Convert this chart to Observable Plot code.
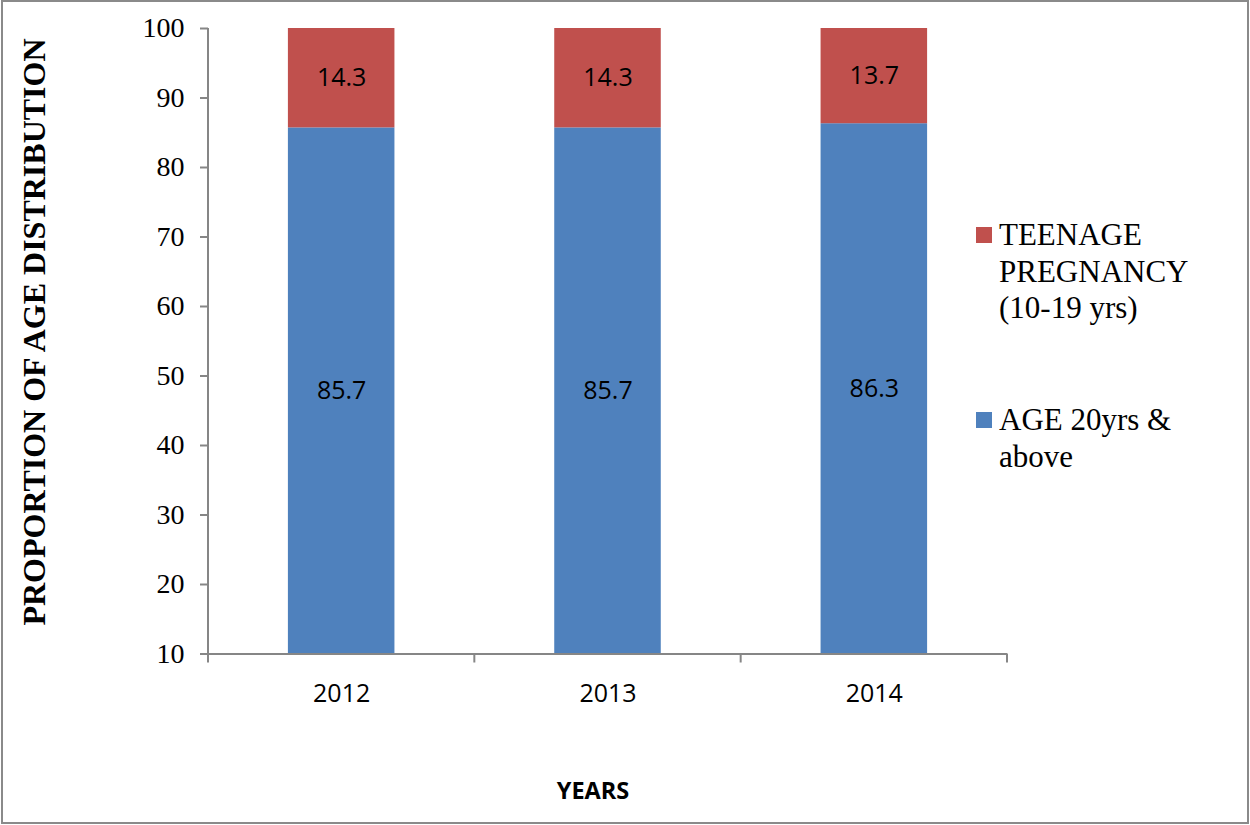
<!DOCTYPE html>
<html>
<head>
<meta charset="utf-8">
<script src="https://cdn.jsdelivr.net/npm/d3@7"></script>
<script src="https://cdn.jsdelivr.net/npm/@observablehq/plot@0.6"></script>
<style>
  html, body { margin: 0; padding: 0; background: #fff; }
  #chart svg { display: block; }
</style>
</head>
<body>
<div id="chart"></div>
<script>
// Age distribution of deliveries by year (percent)
const years = ["2012", "2013", "2014"];
const groups = ["AGE 20yrs & above", "TEENAGE PREGNANCY (10-19 yrs)"];
const adultShare = [85.7, 85.7, 86.3];
const teenShare = [14.3, 14.3, 13.7];
const yTicks = [10, 20, 30, 40, 50, 60, 70, 80, 90, 100];
const legendLines = {
  "TEENAGE PREGNANCY (10-19 yrs)": ["TEENAGE", "PREGNANCY", "(10-19 yrs)"],
  "AGE 20yrs & above": ["AGE 20yrs &", "above"]
};

const blue = "#4F81BD";
const red = "#C0504D";
const axisGray = "#868686";
const yFloor = yTicks[0];
const serif = "'Liberation Serif', 'Times New Roman', serif";
const sans = "'Open Sans', sans-serif";

// long-format rows, bottom segment first so it stacks underneath
const rows = [];
years.forEach((year, i) => {
  rows.push({year, group: groups[0], value: adultShare[i], lo: 0});
  rows.push({year, group: groups[1], value: teenShare[i], lo: adultShare[i]});
});
// label sits in the middle of the visible part of each segment
rows.forEach(d => {
  const bottom = Math.max(d.lo, yFloor);
  d.mid = (bottom + d.lo + d.value) / 2;
});

const W = 1250, H = 825;
const chart = Plot.plot({
  width: W,
  height: H,
  marginLeft: 208,
  marginRight: 243,
  marginTop: 28,
  marginBottom: 171.5,
  style: {fontFamily: sans, background: "#fff", overflow: "visible"},
  x: {domain: years, paddingInner: 0.6, paddingOuter: 0.3, round: false, label: null},
  y: {domain: [yFloor, 100], label: null},
  color: {domain: groups, range: [blue, red]},
  marks: [
    Plot.barY(rows, {x: "year", y: "value", fill: "group", order: groups, clip: true}),
    Plot.text(rows, {
      x: "year", y: "mid", text: d => d.value.toFixed(1),
      fill: "black", fontSize: 25, fontFamily: sans
    }),
    // value axis: gray ticks, serif labels
    Plot.axisY({ticks: yTicks, tickSize: 8, stroke: axisGray, strokeWidth: 2, fill: "none", label: null}),
    Plot.text(yTicks, {
      y: d => d, text: d => String(d), frameAnchor: "left", dx: -24,
      textAnchor: "end", fill: "black", fontSize: 28, fontFamily: serif
    }),
    Plot.axisX({
      tickSize: 0, tickPadding: 30, fill: "black",
      fontSize: 25, label: null
    }),
    Plot.ruleY([yFloor], {stroke: axisGray, strokeWidth: 2})
  ]
});

document.getElementById("chart").appendChild(chart);

const svg = d3.select(chart);
const xs = chart.scale("x");
const ys = chart.scale("y");
const left = 208;
const yBase = ys.apply(yFloor);
const yTop = ys.apply(100);

// vertical axis line
svg.append("line")
  .attr("x1", left).attr("x2", left)
  .attr("y1", yTop).attr("y2", yBase)
  .attr("stroke", axisGray).attr("stroke-width", 2);

// category boundary ticks below the horizontal axis
const bounds = [];
years.forEach((y, i) => {
  const c = xs.apply(y) + xs.bandwidth / 2;
  if (i === 0) bounds.push(c - xs.step / 2);
  bounds.push(c + xs.step / 2);
});
svg.selectAll(null).data(bounds).join("line")
  .attr("x1", d => d).attr("x2", d => d)
  .attr("y1", yBase).attr("y2", yBase + 9)
  .attr("stroke", axisGray).attr("stroke-width", 2);

// axis titles
svg.append("text")
  .attr("transform", `translate(45, 332) rotate(-90)`)
  .attr("text-anchor", "middle")
  .attr("font-family", serif)
  .attr("font-weight", "bold")
  .attr("font-size", 32)
  .attr("fill", "black")
  .text("PROPORTION OF AGE DISTRIBUTION");

svg.append("text")
  .attr("x", 593).attr("y", 799)
  .attr("text-anchor", "middle")
  .attr("font-family", sans)
  .attr("font-weight", "bold")
  .attr("font-size", 23.5)
  .attr("fill", "black")
  .text("YEARS");

// legend, top series first
const legendItems = [
  {group: groups[1], color: red, top: 227},
  {group: groups[0], color: blue, top: 412}
];
legendItems.forEach(item => {
  svg.append("rect")
    .attr("x", 976).attr("y", item.top)
    .attr("width", 16).attr("height", 16)
    .attr("fill", item.color);
  const t = svg.append("text")
    .attr("text-anchor", "start")
    .attr("font-family", serif)
    .attr("font-size", 31)
    .attr("fill", "black");
  legendLines[item.group].forEach((line, i) => {
    t.append("tspan").attr("x", 999).attr("y", item.top + 18 + i * 36.5).text(line);
  });
});

// outer border
svg.append("rect")
  .attr("x", 2).attr("y", 1)
  .attr("width", W - 4).attr("height", H - 3)
  .attr("fill", "none")
  .attr("stroke", "#8a8a8a").attr("stroke-width", 2);
</script>
</body>
</html>
